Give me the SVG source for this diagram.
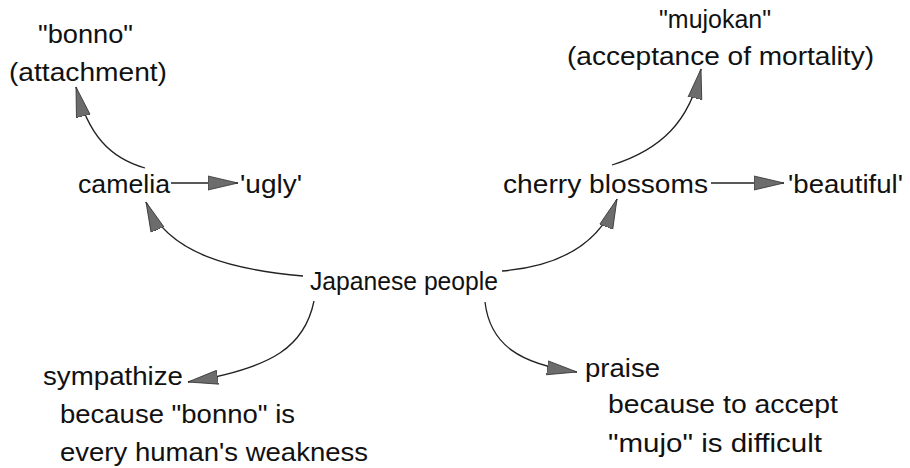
<svg xmlns="http://www.w3.org/2000/svg" width="910" height="468" viewBox="0 0 910 468">
  <style>
    text { font-family: "Liberation Sans", Arial, sans-serif; font-size: 25px; fill: #111; }
    .big { font-size: 26px; }
    .link { fill: none; stroke: #222; stroke-width: 1.3; marker-end: url(#head); }
  </style>
  <defs>
    <!-- grey triangular arrowhead, tip at the path end -->
    <marker id="head" markerUnits="userSpaceOnUse" viewBox="0 0 30 16" markerWidth="30" markerHeight="16" refX="30" refY="8" orient="auto">
      <path d="M0,1 L30,8 L0,15 z" fill="#6c6c6c" stroke="#333" stroke-width="0.8"/>
    </marker>
  </defs>
  <rect width="910" height="468" fill="#fff"/>

  <g id="connectors">
    <path class="link" d="M145,168 C110,158 88,135 76,87"/>
    <path class="link" d="M171,183 L238,183"/>
    <path class="link" d="M303,276 C235,270 168,255 146,202"/>
    <path class="link" d="M502,271 C552,267 598,248 617,199"/>
    <path class="link" d="M612,165 C660,150 690,122 701,69"/>
    <path class="link" d="M711,183 L784,183"/>
    <path class="link" d="M314,301 C305,345 275,368 188,382"/>
    <path class="link" d="M485,302 C490,345 520,364 577,372"/>
  </g>

  <g id="bonno">
    <text x="38" y="43" textLength="95" lengthAdjust="spacingAndGlyphs">"bonno"</text>
    <text x="9" y="81" textLength="158" lengthAdjust="spacingAndGlyphs">(attachment)</text>
  </g>
  <g id="mujokan">
    <text class="big" x="659" y="28" textLength="112" lengthAdjust="spacingAndGlyphs">"mujokan"</text>
    <text x="567" y="65" textLength="307" lengthAdjust="spacingAndGlyphs">(acceptance of mortality)</text>
  </g>
  <g id="camelia">
    <text x="78" y="193" textLength="92" lengthAdjust="spacingAndGlyphs">camelia</text>
  </g>
  <g id="ugly">
    <text x="240" y="193" textLength="62" lengthAdjust="spacingAndGlyphs">'ugly'</text>
  </g>
  <g id="cherry-blossoms">
    <text x="503" y="193" textLength="205" lengthAdjust="spacingAndGlyphs">cherry blossoms</text>
  </g>
  <g id="beautiful">
    <text x="788" y="193" textLength="115" lengthAdjust="spacingAndGlyphs">'beautiful'</text>
  </g>
  <g id="japanese-people">
    <text class="big" x="310" y="290" textLength="188" lengthAdjust="spacingAndGlyphs">Japanese people</text>
  </g>
  <g id="sympathize">
    <text x="43" y="385" textLength="140" lengthAdjust="spacingAndGlyphs">sympathize</text>
    <text x="60" y="423" textLength="235" lengthAdjust="spacingAndGlyphs">because "bonno" is</text>
    <text x="60" y="461" textLength="308" lengthAdjust="spacingAndGlyphs">every human's weakness</text>
  </g>
  <g id="praise">
    <text x="585" y="377" textLength="75" lengthAdjust="spacingAndGlyphs">praise</text>
    <text x="608" y="413" textLength="230" lengthAdjust="spacingAndGlyphs">because to accept</text>
    <text x="608" y="452" textLength="214" lengthAdjust="spacingAndGlyphs">"mujo" is difficult</text>
  </g>
</svg>
